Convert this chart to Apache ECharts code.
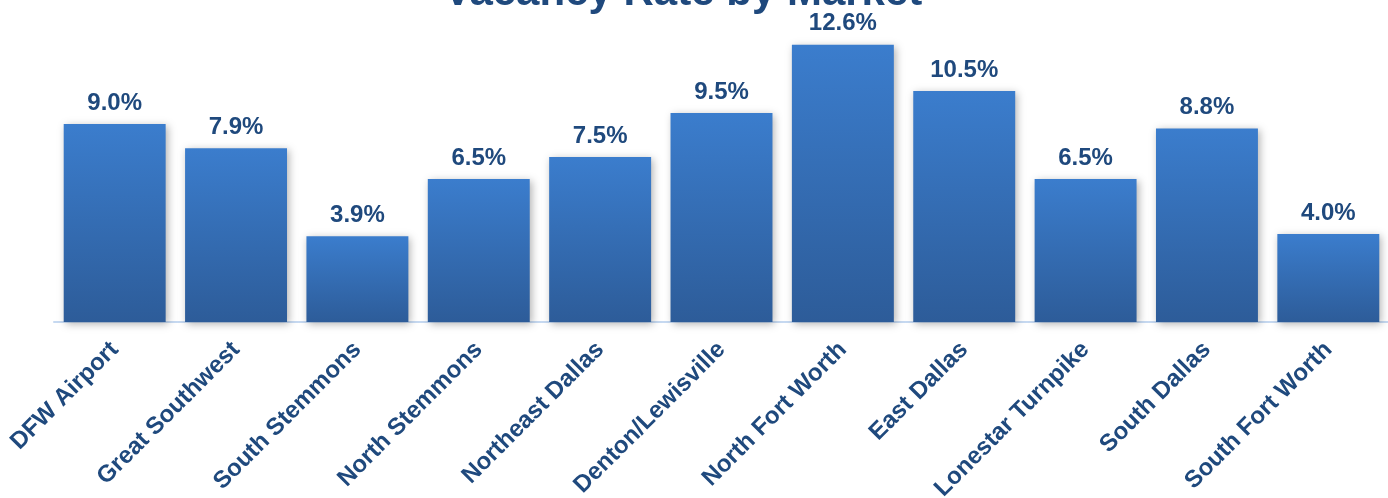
<!DOCTYPE html>
<html>
<head>
<meta charset="utf-8">
<script src="https://cdn.jsdelivr.net/npm/echarts@6/dist/echarts.min.js"></script>
<style>
html,body{margin:0;padding:0;background:#fff;}
#chart{width:1388px;height:498px;}
</style>
</head>
<body>
<div id="chart"></div>
<script>
const titleText = 'Vacancy Rate by Market';
const categories = ['DFW Airport','Great Southwest','South Stemmons','North Stemmons','Northeast Dallas','Denton/Lewisville','North Fort Worth','East Dallas','Lonestar Turnpike','South Dallas','South Fort Worth'];
const vacancy = [9.0, 7.9, 3.9, 6.5, 7.5, 9.5, 12.6, 10.5, 6.5, 8.8, 4.0];

const chart = echarts.init(document.getElementById('chart'), null, {renderer:'canvas'});
const dark = '#1F497D';
chart.setOption({
  backgroundColor:'#ffffff',
  animation:false,
  title:{
    text:titleText,
    left:678, top:-33,
    textAlign:'center',
    textStyle:{fontFamily:'Liberation Sans, Arial, sans-serif', fontWeight:'bold', fontSize:42, color:dark}
  },
  grid:{left:54, right:-1, top:14, bottom:176, containLabel:false, outerBoundsMode:'none'},
  xAxis:{
    type:'category',
    data:categories,
    axisLine:{show:true, lineStyle:{color:'#C6D9F1', width:2}},
    axisTick:{show:false},
    axisLabel:{
      rotate:45, interval:0, margin:24,
      fontFamily:'Liberation Sans, Arial, sans-serif', fontWeight:'bold', fontSize:24, color:dark
    }
  },
  yAxis:{type:'value', min:0, max:14, show:false, splitLine:{show:false}},
  series:[{
    type:'bar',
    data:vacancy,
    barCategoryGap:'16%',
    itemStyle:{
      color:new echarts.graphic.LinearGradient(0,0,0,1,[
        {offset:0, color:'#3B7DCD'},
        {offset:1, color:'#2D5C99'}
      ]),
      shadowColor:'rgba(0,0,0,0.3)', shadowBlur:8, shadowOffsetX:2, shadowOffsetY:2
    },
    label:{
      show:true, position:'top', distance:9,
      formatter:p => p.value.toFixed(1) + '%',
      fontFamily:'Liberation Sans, Arial, sans-serif', fontWeight:'bold', fontSize:24, color:dark
    }
  }]
});
</script>
</body>
</html>
